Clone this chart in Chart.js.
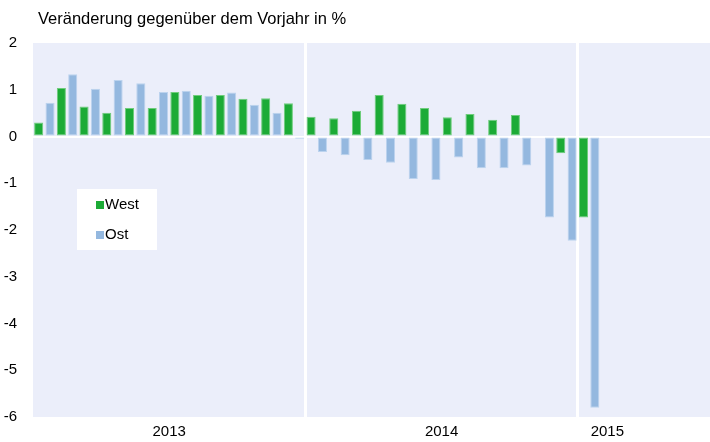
<!DOCTYPE html>
<html>

<head>
    <title>Veränderung gegenüber dem Vorjahr</title>
    <style>
        html,
        body {
            margin: 0;
            padding: 0;
            background: #fff;
            overflow: hidden;
        }

        #wrap {
            position: relative;
            width: 714px;
            height: 442px;
        }
    </style>
</head>

<body>
    <div id="wrap"><canvas id="chart"></canvas></div>
    <script src="https://cdn.jsdelivr.net/npm/chart.js"></script>
    <script>
        const title = 'Veränderung gegenüber dem Vorjahr in %';

        const months = [
            'Jan 13', 'Feb 13', 'Mär 13', 'Apr 13', 'Mai 13', 'Jun 13',
            'Jul 13', 'Aug 13', 'Sep 13', 'Okt 13', 'Nov 13', 'Dez 13',
            'Jan 14', 'Feb 14', 'Mär 14', 'Apr 14', 'Mai 14', 'Jun 14',
            'Jul 14', 'Aug 14', 'Sep 14', 'Okt 14', 'Nov 14', 'Dez 14',
            'Jan 15', 'Feb 15', 'Mär 15', 'Apr 15', 'Mai 15', 'Jun 15',
        ];

        const west = [
            0.30, 1.04, 0.64, 0.51, 0.61, 0.61, 0.95, 0.89, 0.89, 0.81, 0.82, 0.71,
            0.42, 0.39, 0.55, 0.89, 0.70, 0.61, 0.41, 0.48, 0.36, 0.46, 0.00, -0.36,
            -1.73, null, null, null, null, null,
        ];

        const ost = [
            0.72, 1.33, 1.02, 1.21, 1.14, 0.95, 0.98, 0.87, 0.94, 0.68, 0.51, -0.05,
            -0.33, -0.40, -0.50, -0.56, -0.91, -0.93, -0.45, -0.68, -0.68, -0.62, -1.73, -2.23,
            -5.80, null, null, null, null, null,
        ];

        const years = ['2013', '2014', '2015'];
        const yearTicks = [6, 18, 25.3];   // label positions on the month axis
        const yearBreaks = [12, 24];       // months where a new year starts

        const font = "'Liberation Sans', Arial, sans-serif";

        // plot background, title and the boxed legend
        const decor = {
            id: 'decor',
            beforeDraw(chart) {
                const { ctx, chartArea: a } = chart;
                ctx.save();
                ctx.fillStyle = '#ebeefa';
                ctx.fillRect(a.left, a.top, a.right - a.left, a.bottom - a.top);
                ctx.restore();
            },
            afterDraw(chart) {
                const { ctx } = chart;
                ctx.save();
                ctx.fillStyle = '#000';
                ctx.font = `16.5px ${font}`;
                ctx.textBaseline = 'middle';
                ctx.fillText(title, 38, 19);

                ctx.fillStyle = '#fff';
                ctx.fillRect(77, 189, 80, 61);
                ctx.font = `15px ${font}`;
                chart.data.datasets.forEach((ds, i) => {
                    const y = 205 + i * 30;
                    ctx.fillStyle = ds.backgroundColor;
                    ctx.fillRect(96, y - 4, 8, 8);
                    ctx.fillStyle = '#000';
                    ctx.fillText(ds.label, 105, y);
                });
                ctx.restore();
            }
        };

        new Chart(document.getElementById('chart'), {
            type: 'bar',
            data: {
                labels: months,
                datasets: [{
                    label: 'West',
                    data: west,
                    backgroundColor: '#1cab36',
                    borderColor: '#6fcd7c',
                    borderWidth: 1,
                    borderSkipped: false,
                }, {
                    label: 'Ost',
                    data: ost,
                    backgroundColor: '#94b8df',
                    borderColor: '#bcd3ee',
                    borderWidth: 1,
                    borderSkipped: false,
                }]
            },
            options: {
                responsive: true,
                maintainAspectRatio: false,
                animation: false,
                layout: { padding: { top: 43, right: 0, bottom: 0, left: 0 } },
                datasets: {
                    bar: { barPercentage: 0.8, categoryPercentage: 1 }
                },
                plugins: {
                    legend: { display: false },
                    tooltip: { enabled: false },
                },
                scales: {
                    x: {
                        type: 'category',
                        offset: true,
                        ticks: { display: false },
                        border: { display: false },
                        grid: {
                            offset: true,
                            drawTicks: false,
                            lineWidth: 3,
                            color: (c) => yearBreaks.includes(c.index) ? '#ffffff' : 'rgba(0,0,0,0)',
                        },
                        afterFit: (s) => { s.height = 0; },
                    },
                    x2: {
                        type: 'linear',
                        position: 'bottom',
                        offset: false,
                        min: 0,
                        max: months.length,
                        grid: { display: false, drawTicks: false, offset: false },
                        border: { display: false },
                        afterBuildTicks: (s) => { s.ticks = yearTicks.map((v) => ({ value: v })); },
                        ticks: {
                            autoSkip: false,
                            maxRotation: 0,
                            padding: 6,
                            color: '#000',
                            font: { family: font, size: 15 },
                            callback: (v, i) => years[i],
                        },
                        afterFit: (s) => { s.height = 23; },
                    },
                    y: {
                        min: -6,
                        max: 2,
                        z: 1,
                        border: { display: false },
                        grid: {
                            drawTicks: false,
                            lineWidth: 2,
                            color: (c) => c.tick && c.tick.value === 0 ? '#ffffff' : 'rgba(0,0,0,0)',
                        },
                        ticks: {
                            stepSize: 1,
                            padding: 16,
                            color: '#000',
                            font: { family: font, size: 15 },
                        },
                        afterFit: (s) => { s.width = 33; },
                    }
                }
            },
            plugins: [decor]
        });
    </script>
</body>

</html>
